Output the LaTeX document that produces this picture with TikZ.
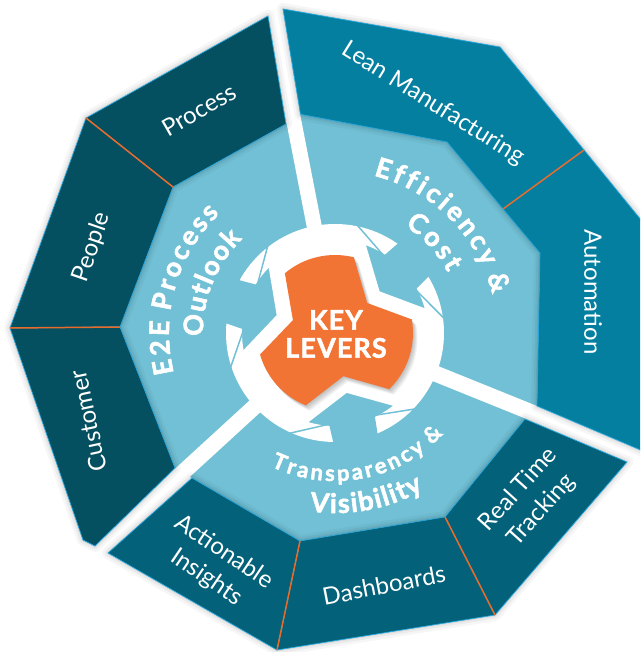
\documentclass[tikz,border=0pt]{standalone}
\usepackage{fontspec}
\setmainfont{Lato}
\newfontfamily\arcfont[FakeBold=2]{Lato}
\newfontfamily\heavyfont[LetterSpace=4, FakeBold=1.8]{Lato}
\usetikzlibrary{decorations.text}

\definecolor{tealdark}{RGB}{4,79,96}
\definecolor{tealmid}{RGB}{4,127,159}
\definecolor{tealbot}{RGB}{3,97,121}
\definecolor{skyring}{RGB}{114,192,213}
\definecolor{keyorange}{RGB}{242,116,52}
\definecolor{divorange}{RGB}{232,107,44}
\definecolor{edgecyan}{RGB}{38,168,222}

% soft shadow round a segment outline
\newcommand\klHalo[1]{%
  \draw[black, opacity=0.035, line width=12pt, line join=round] #1;
  \draw[black, opacity=0.045, line width=7pt, line join=round] #1;
  \draw[black, opacity=0.06, line width=3pt, line join=round] #1;}
% filled segment with its thin cyan rim
\newcommand\klSeg[2]{\filldraw[fill=#1, draw=edgecyan, line width=0.7pt, line join=round] #2;}
% three-lobed badge: lobe radius, notch radius, half-angle offset of the lobe ends
\newcommand\klTrefoil[4]{%
  \fill[#1] (-43:#3) -- ({-43-#4}:#2) arc[start angle={-43-#4}, end angle={-163+#4}, radius=#2]
    -- (-163:#3) -- ({-163-#4}:#2) arc[start angle={-163-#4}, end angle={-281+#4}, radius=#2]
    -- (-281:#3) -- ({-281-#4}:#2) arc[start angle={-281-#4}, end angle={-403+#4}, radius=#2]
    -- cycle;}
% tracking between the letters of the curved titles
\newdimen\trk
\newcommand\tk{\kern\trk}
\newcommand\arcbig{\arcfont\bfseries\fontsize{27}{27}\selectfont}
\newcommand\arcsmall{\arcfont\bfseries\fontsize{22}{22}\selectfont}

\begin{document}
\begin{tikzpicture}[x=1pt, y=-1pt,
  seglabel/.style={text=white, font=\fontsize{24}{31}\selectfont, align=center, inner sep=0pt},
  divider/.style={draw=divorange, line width=1.5pt},
  gapline/.style={draw=white, line width=#1},
  arctext/.style={decorate, decoration={text along path, text align=center, text color=white, text={#1}}}]
\useasboundingbox (0,0) rectangle (640,652);
\clip (0,0) rectangle (640,652);

% corner points of the outer segments
\coordinate (o1) at (268,16);   \coordinate (o2) at (86,118);
\coordinate (o3) at (10,328);   \coordinate (o4) at (83,540);
\coordinate (o5) at (95,546);
\coordinate (i1) at (286,124);  \coordinate (i2) at (173,187);
\coordinate (i3) at (120,327);  \coordinate (i4) at (175,468);
\coordinate (l1) at (283,9);    \coordinate (l2) at (500,47);
\coordinate (l3) at (584,150);  \coordinate (l4) at (690,280);
\coordinate (l5) at (690,471);
\coordinate (a1) at (537,406);  \coordinate (a2) at (540,253);
\coordinate (a3) at (503,209);  \coordinate (a4) at (447,142);
\coordinate (a5) at (300.5,114.3);
\coordinate (r1) at (525,419);  \coordinate (r2) at (627,462);
\coordinate (r3) at (495,615);  \coordinate (r4) at (445,517);
\coordinate (d1) at (277,650);  \coordinate (d2) at (300,541);
\coordinate (s1) at (192,478);  \coordinate (s2) at (108,553);

% light blue inner field
\fill[skyring] (i2) -- (i1) -- (a5) -- (a4) -- (a2) -- (a1) -- (r1) -- (r4) -- (d2)
  -- (s1) -- (i4) -- (i3) -- cycle;

% white radial gaps between the three fields
\begin{scope}[shift={(335,333)}]
  \draw[gapline=15pt] (-101:95) -- (-101:400);
  \draw[gapline=16pt] (22:95) -- (22:400);
  \draw[gapline=16pt] (-222.5:95) -- (-222.5:400);
\end{scope}

% shadows of the outer segments
\klHalo{(o2) -- (o1) -- (i1) -- (i2) -- (i3) -- (i4) -- (o5) -- (o4) -- (o3) -- cycle}
\klHalo{(l1) -- (l2) -- (l3) -- (l4) -- (l5) -- (a1) -- (a2) -- (a4) -- (a5) -- cycle}
\klHalo{(r1) -- (r2) -- (r3) -- (d1) -- (s2) -- (s1) -- (d2) -- (r4) -- cycle}

% outer segments
\klSeg{tealdark}{(o2) -- (o1) -- (i1) -- (i2) -- cycle}
\klSeg{tealdark}{(o2) -- (i2) -- (i3) -- (o3) -- cycle}
\klSeg{tealdark}{(o3) -- (i3) -- (i4) -- (o5) -- (o4) -- cycle}
\klSeg{tealmid}{(l1) -- (l2) -- (l3) -- (a3) -- (a4) -- (a5) -- cycle}
\klSeg{tealmid}{(l3) -- (l4) -- (l5) -- (a1) -- (a2) -- (a3) -- cycle}
\klSeg{tealbot}{(r1) -- (r2) -- (r3) -- (r4) -- cycle}
\klSeg{tealbot}{(r4) -- (r3) -- (d1) -- (d2) -- cycle}
\klSeg{tealbot}{(s1) -- (d2) -- (d1) -- (s2) -- cycle}

% orange dividers
\draw[divider] (o2) -- (i2);
\draw[divider] (o3) -- (i3);
\draw[divider] (l3) -- (a3);
\draw[divider] (r4) -- (r3);
\draw[divider] (d2) -- (d1);

% segment labels
\node[seglabel, rotate=30]  (lblProcess)    at (199,110) {Process};
\node[seglabel, rotate=71]  (lblPeople)     at (92,247)  {People};
\node[seglabel, rotate=102] (lblCustomer)   at (88,421)  {Customer};
\node[seglabel, rotate=-32] (lblLean)       at (433,104) {Lean Manufacturing};
\node[seglabel, rotate=-90] (lblAutomation) at (593,292) {Automation};
\node[seglabel, rotate=48]  (lblTracking)   at (530,500) {Real Time\\Tracking};
\node[seglabel, rotate=11]  (lblDash)       at (384,585) {Dashboards};
\node[seglabel, rotate=-34] (lblInsights)   at (215,565) {Actionable\\Insights};

% hub: arrow ring, white rim and orange badge
\begin{scope}[shift={(335,333)}]
  \fill[white, even odd rule] (0,0) circle[radius=109] (0,0) circle[radius=93];
  \foreach \n in {43,163,281} {
    \fill[skyring] ({-\n+11.7}:111) -- ({-\n}:113) -- ({-\n-11.7}:111)
      -- ({-\n-14.8}:91) -- ({-\n+14.8}:91) -- cycle;
    \fill[skyring] ({-\n-35.3}:111) -- ({-\n-36.6}:111) -- ({-\n-15.4}:91)
      -- ({-\n-12.2}:91) -- cycle;
    \fill[skyring] ({-\n+35.3}:111) -- ({-\n+36.6}:111) -- ({-\n+15.4}:91)
      -- ({-\n+12.2}:91) -- cycle;
  }
  \klTrefoil{white}{94}{61}{28}
  \foreach \s in {1,...,5} {
    \klTrefoil{black, opacity=0.05, shift={(0.9*\s,1.1*\s)}}{78}{44}{33}
  }
  \klTrefoil{keyorange}{78}{44}{33}

  % curved field titles
  \path[arctext={|\arcbig\trk=3pt\relax|{E\tk}{2\tk}{E\tk} {P\tk}{r\tk}{o\tk}{c\tk}{e\tk}{s\tk}{s}}]
    (-230:166) arc[start angle=-230, end angle=-98, radius=166];
  \path[arctext={|\arcbig\trk=1.5pt\relax|{O\tk}{u\tk}{t\tk}{l\tk}{o\tk}{o\tk}{k}}]
    (-228:132) arc[start angle=-228, end angle=-88, radius=132];
  \path[arctext={|\arcbig\trk=3.2pt\relax|{E\tk}{f\tk}{f\tk}{i\tk}{c\tk}{i\tk}{e\tk}{n\tk}{c\tk}{y\tk} {\&}}]
    (-115:162) arc[start angle=-115, end angle=25, radius=162];
  \path[arctext={|\arcbig\trk=3pt\relax|{C\tk}{o\tk}{s\tk}{t}}]
    (-102.6:128) arc[start angle=-102.6, end angle=17.4, radius=128];
  \path[arctext={|\arcsmall\trk=2.8pt\relax|{T\tk}{r\tk}{a\tk}{n\tk}{s\tk}{p\tk}{a\tk}{r\tk}{e\tk}{n\tk}{c\tk}{y\tk} {\&}}]
    (-210.7:148) arc[start angle=-210.7, end angle=-350.7, radius=148];
  \path[arctext={|\arcbig\trk=1.5pt\relax|{V\tk}{i\tk}{s\tk}{i\tk}{b\tk}{i\tk}{l\tk}{i\tk}{t\tk}{y}}]
    (-210.7:180) arc[start angle=-210.7, end angle=-350.7, radius=180];
\end{scope}

\node[text=white, font=\heavyfont\bfseries\fontsize{27}{28}\selectfont, align=center, inner sep=0pt]
  (keylevers) at (336,334) {KEY\\LEVERS};
\end{tikzpicture}
\end{document}
